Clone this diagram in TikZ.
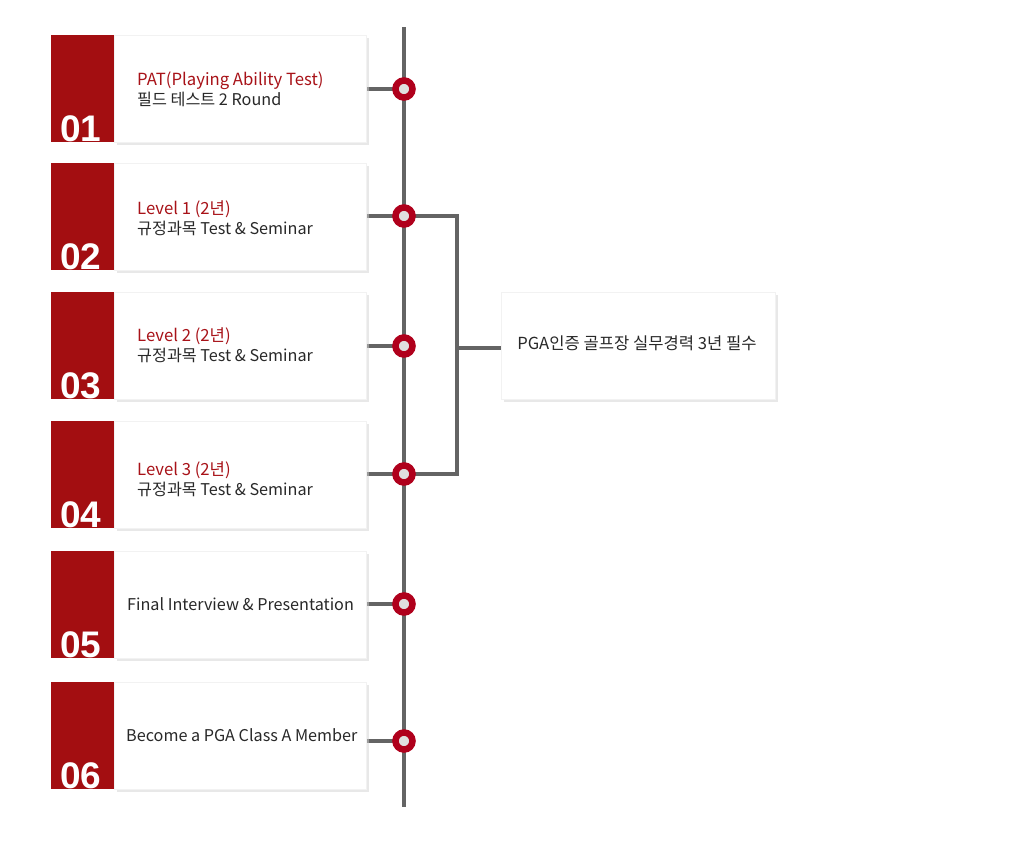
\documentclass[tikz,border=0pt]{standalone}
\usepackage{fontspec}
\setmainfont{Noto Sans CJK KR}
\newfontfamily\numfont{Liberation Sans}
\usetikzlibrary{shadows}
\definecolor{sqred}{RGB}{163,14,17}
\definecolor{ttlred}{RGB}{168,18,24}
\definecolor{dotred}{RGB}{176,0,28}
\definecolor{dotin}{RGB}{224,224,224}
\definecolor{linegray}{RGB}{100,100,100}
\definecolor{txtgray}{RGB}{40,40,40}
\pgfdeclarelayer{bg}
\pgfsetlayers{bg,main}
\tikzset{
  whitebox/.style={rectangle, fill=white, draw=black!5, line width=0.4pt, inner sep=0,
    minimum width=252pt, minimum height=107pt, anchor=north west,
    drop shadow={shadow xshift=2.5pt, shadow yshift=-2.5pt, fill=black!18}},
  redsq/.style={rectangle, fill=sqred, inner sep=0, minimum width=63pt, minimum height=107pt, anchor=north west},
  numtxt/.style={anchor=base west, inner sep=0, text=white, font=\numfont\bfseries\fontsize{37}{37}\selectfont},
  ttl/.style={anchor=base west, inner sep=0, text=ttlred, font=\fontsize{16.7}{16.7}\selectfont},
  sub/.style={anchor=base west, inner sep=0, text=txtgray, font=\fontsize{16.2}{16.2}\selectfont},
  dot/.style={circle, fill=dotin, draw=dotred, line width=6.5pt, minimum size=17pt, inner sep=0},
  conn/.style={draw=linegray, line width=4pt},
}
\begin{document}
\begin{tikzpicture}[x=1pt,y=-1pt]
\useasboundingbox (0,0) rectangle (1020,855);
% boxes
\foreach \i/\y in {1/35,2/163,3/292,4/421,5/551,6/682}{
  \node[whitebox] (b\i) at (114,\y) {};
  \node[redsq] (r\i) at (51,\y) {};
}
\node[numtxt] (n1) at (60,141) {01};
\node[numtxt] (n2) at (60,269) {02};
\node[numtxt] (n3) at (60,398) {03};
\node[numtxt] (n4) at (60,527) {04};
\node[numtxt] (n5) at (60,657) {05};
\node[numtxt] (n6) at (60,788) {06};
% texts
\node[ttl] (t1) at (137,85) {PAT(Playing Ability Test)};
\node[sub] (s1) at (137,105) {필드 테스트 2 Round};
\node[ttl] (t2) at (137,214) {Level 1 (2년)};
\node[sub] (s2) at (137,234) {규정과목 Test \& Seminar};
\node[ttl] (t3) at (137,341) {Level 2 (2년)};
\node[sub] (s3) at (137,361) {규정과목 Test \& Seminar};
\node[ttl] (t4) at (137,475) {Level 3 (2년)};
\node[sub] (s4) at (137,495) {규정과목 Test \& Seminar};
\node[sub] (s5) at (127,610) {Final Interview \& Presentation};
\node[sub] (s6) at (126,741) {Become a PGA Class A Member};
% right box
\node[whitebox, minimum width=274pt] (rb) at (501,292) {};
\node[sub, anchor=base, font=\fontsize{16.6}{16.6}\selectfont] (rt) at (637,349) {PGA인증 골프장 실무경력 3년 필수};
% dots
\node[dot] (c1) at (404,89) {};
\node[dot] (c2) at (404,216) {};
\node[dot] (c3) at (404,346) {};
\node[dot] (c4) at (404,474) {};
\node[dot] (c5) at (404,604) {};
\node[dot] (c6) at (404,741) {};
\coordinate (sTop) at (404,27);
\coordinate (sBot) at (404,807);
\coordinate (j) at (457,348);
\begin{pgfonlayer}{bg}
\draw[conn] (sTop) -- (sBot);
\foreach \i in {1,...,6}{ \draw[conn] (b\i.east |- c\i) -- (c\i.center); }
\draw[conn] (c2.center) -| (j) |- (c4.center);
\draw[conn] (j) -- (j -| rb.west);
\end{pgfonlayer}
\end{tikzpicture}
\end{document}
